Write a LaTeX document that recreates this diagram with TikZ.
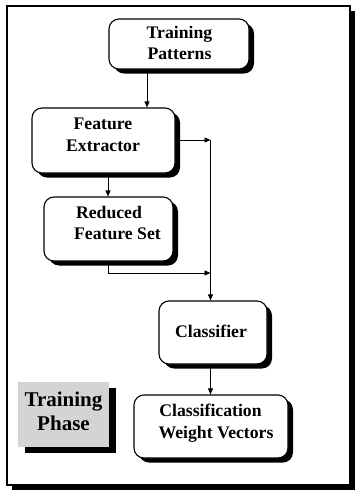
\documentclass[tikz,border=0pt]{standalone}
\usepackage{fontspec}
\setmainfont{Liberation Serif}
\usetikzlibrary{shadows,arrows.meta}
\definecolor{panelgray}{HTML}{D4D4D4}
\tikzset{
  procbox/.style={draw, line width=1.1pt, rounded corners=10pt, fill=white,
    drop shadow={shadow xshift=5pt, shadow yshift=-4.5pt, opacity=1, fill=black},
    inner sep=0pt, anchor=center},
  boxtext/.style={align=center, inner sep=0pt, font=\fontsize{17.7}{21.5}\selectfont\bfseries},
  phasebox/.style={fill=panelgray, inner sep=0pt,
    drop shadow={shadow xshift=7pt, shadow yshift=-5.5pt, opacity=1, fill=black}},
  phasetext/.style={align=center, inner sep=0pt, font=\fontsize{21}{24}\selectfont\bfseries},
  flow/.style={line width=0.9pt, -{Triangle[length=6pt,width=5pt]}},
  plain/.style={line width=0.9pt}
}
\begin{document}
\begin{tikzpicture}[x=1pt,y=-1pt]
\useasboundingbox (0,0) rectangle (355,491);

% outer frame
\node[draw, line width=1.3pt, fill=white, inner sep=0pt,
  minimum width=343pt, minimum height=479pt,
  drop shadow={shadow xshift=4.5pt, shadow yshift=-4.5pt, opacity=1, fill=black}]
  (frame) at (178.5,245.5) {};

% process boxes
\node[procbox, minimum width=140pt, minimum height=50pt] (tp)  at (179,44) {};
\node[procbox, minimum width=143pt, minimum height=65pt] (fe)  at (103.5,140.5) {};
\node[procbox, minimum width=129pt, minimum height=64pt] (rfs) at (108.5,229) {};
\node[procbox, minimum width=108pt, minimum height=63pt] (cl)  at (213,332.5) {};
\node[procbox, minimum width=154pt, minimum height=63pt] (cwv) at (211,426.5) {};

% box labels
\node[boxtext] (tp-t)  at (179.5,43)  {Training\\Patterns};
\node[boxtext] (fe-t)  at (103,135)   {Feature\\Extractor};
\node[boxtext] (rfs-t) at (109,223)   {Reduced\\\hspace*{17pt}Feature Set};
\node[boxtext] (cl-t)  at (211,331)   {Classifier};
\node[boxtext] (cwv-t) at (210.5,423) {Classification\\\hspace*{11pt}Weight Vectors};

% phase label
\node[phasebox, minimum width=91pt, minimum height=65pt] (ph) at (63.5,414.5) {};
\node[phasetext] (ph-t) at (63.5,411) {Training\\Phase};

% routing points
\coordinate (xa) at (147,0);
\coordinate (xb) at (108,0);
\coordinate (xc) at (210.5,0);
\coordinate (j1) at (210.5,140);
\coordinate (yb) at (0,273);

% connectors
\draw[flow] (xa |- tp.south) -- (xa |- fe.north);
\draw[flow] (xb |- fe.south) -- (xb |- rfs.north);
\draw[flow] (fe.east |- j1) -- (j1);
\draw[flow] (j1) -- (xc |- cl.north);
\draw[flow] (xb |- rfs.south) -- (xb |- yb) -- (xc |- yb);
\draw[flow] (xc |- cl.south) -- (xc |- cwv.north);
\end{tikzpicture}
\end{document}
